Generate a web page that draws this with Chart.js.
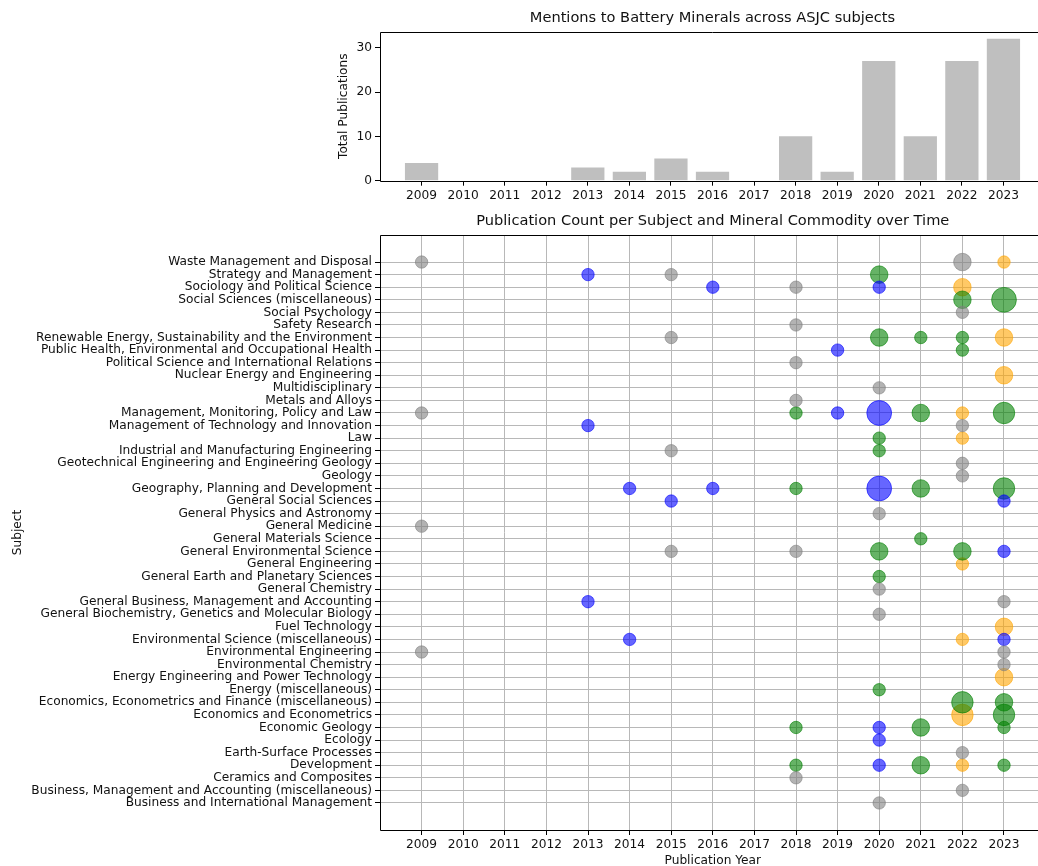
<!DOCTYPE html>
<html>
<head>
<meta charset="utf-8">
<script src="https://cdn.jsdelivr.net/npm/chart.js@4.4.1/dist/chart.umd.min.js"></script>
<style>
  html, body { margin: 0; padding: 0; background: #fff; overflow: hidden; }
  #wrap { position: relative; width: 1038px; height: 866px; overflow: hidden; background: #fff; }
  .box { position: absolute; left: 0; }
</style>
</head>
<body>
<div id="wrap">
  <div class="box" style="top:0; width:1045px; height:210px;"><canvas id="barChart"></canvas></div>
  <div class="box" style="top:200px; width:1059px; height:668px;"><canvas id="bubbleChart"></canvas></div>
</div>
<script>
// ---- data ----
const years = [2009, 2010, 2011, 2012, 2013, 2014, 2015, 2016, 2017, 2018, 2019, 2020, 2021, 2022, 2023];
const totalPublications = [4, 0, 0, 0, 3, 2, 5, 2, 0, 10, 2, 27, 10, 27, 32];
const barTicks = [0, 10, 20, 30];

// subjects, listed top to bottom
const subjects = [
  'Waste Management and Disposal',
  'Strategy and Management',
  'Sociology and Political Science',
  'Social Sciences (miscellaneous)',
  'Social Psychology',
  'Safety Research',
  'Renewable Energy, Sustainability and the Environment',
  'Public Health, Environmental and Occupational Health',
  'Political Science and International Relations',
  'Nuclear Energy and Engineering',
  'Multidisciplinary',
  'Metals and Alloys',
  'Management, Monitoring, Policy and Law',
  'Management of Technology and Innovation',
  'Law',
  'Industrial and Manufacturing Engineering',
  'Geotechnical Engineering and Engineering Geology',
  'Geology',
  'Geography, Planning and Development',
  'General Social Sciences',
  'General Physics and Astronomy',
  'General Medicine',
  'General Materials Science',
  'General Environmental Science',
  'General Engineering',
  'General Earth and Planetary Sciences',
  'General Chemistry',
  'General Business, Management and Accounting',
  'General Biochemistry, Genetics and Molecular Biology',
  'Fuel Technology',
  'Environmental Science (miscellaneous)',
  'Environmental Engineering',
  'Environmental Chemistry',
  'Energy Engineering and Power Technology',
  'Energy (miscellaneous)',
  'Economics, Econometrics and Finance (miscellaneous)',
  'Economics and Econometrics',
  'Economic Geology',
  'Ecology',
  'Earth-Surface Processes',
  'Development',
  'Ceramics and Composites',
  'Business, Management and Accounting (miscellaneous)',
  'Business and International Management'
];

// [year, subject, publication count] per mineral commodity group
const grayCounts = [
  [2009, 'Waste Management and Disposal', 1],
  [2022, 'Waste Management and Disposal', 2],
  [2015, 'Strategy and Management', 1],
  [2018, 'Sociology and Political Science', 1],
  [2022, 'Social Psychology', 1],
  [2018, 'Safety Research', 1],
  [2015, 'Renewable Energy, Sustainability and the Environment', 1],
  [2018, 'Political Science and International Relations', 1],
  [2020, 'Multidisciplinary', 1],
  [2018, 'Metals and Alloys', 1],
  [2009, 'Management, Monitoring, Policy and Law', 1],
  [2022, 'Management of Technology and Innovation', 1],
  [2015, 'Industrial and Manufacturing Engineering', 1],
  [2022, 'Geotechnical Engineering and Engineering Geology', 1],
  [2022, 'Geology', 1],
  [2020, 'General Physics and Astronomy', 1],
  [2009, 'General Medicine', 1],
  [2015, 'General Environmental Science', 1],
  [2018, 'General Environmental Science', 1],
  [2020, 'General Chemistry', 1],
  [2023, 'General Business, Management and Accounting', 1],
  [2020, 'General Biochemistry, Genetics and Molecular Biology', 1],
  [2009, 'Environmental Engineering', 1],
  [2023, 'Environmental Engineering', 1],
  [2023, 'Environmental Chemistry', 1],
  [2022, 'Earth-Surface Processes', 1],
  [2018, 'Ceramics and Composites', 1],
  [2022, 'Business, Management and Accounting (miscellaneous)', 1],
  [2020, 'Business and International Management', 1]
];

const blueCounts = [
  [2013, 'Strategy and Management', 1],
  [2016, 'Sociology and Political Science', 1],
  [2020, 'Sociology and Political Science', 1],
  [2019, 'Public Health, Environmental and Occupational Health', 1],
  [2019, 'Management, Monitoring, Policy and Law', 1],
  [2020, 'Management, Monitoring, Policy and Law', 4],
  [2013, 'Management of Technology and Innovation', 1],
  [2014, 'Geography, Planning and Development', 1],
  [2016, 'Geography, Planning and Development', 1],
  [2020, 'Geography, Planning and Development', 4],
  [2015, 'General Social Sciences', 1],
  [2023, 'General Social Sciences', 1],
  [2023, 'General Environmental Science', 1],
  [2013, 'General Business, Management and Accounting', 1],
  [2014, 'Environmental Science (miscellaneous)', 1],
  [2023, 'Environmental Science (miscellaneous)', 1],
  [2020, 'Economic Geology', 1],
  [2020, 'Ecology', 1],
  [2020, 'Development', 1]
];

const greenCounts = [
  [2020, 'Strategy and Management', 2],
  [2022, 'Social Sciences (miscellaneous)', 2],
  [2023, 'Social Sciences (miscellaneous)', 4],
  [2020, 'Renewable Energy, Sustainability and the Environment', 2],
  [2021, 'Renewable Energy, Sustainability and the Environment', 1],
  [2022, 'Renewable Energy, Sustainability and the Environment', 1],
  [2022, 'Public Health, Environmental and Occupational Health', 1],
  [2018, 'Management, Monitoring, Policy and Law', 1],
  [2021, 'Management, Monitoring, Policy and Law', 2],
  [2023, 'Management, Monitoring, Policy and Law', 3],
  [2020, 'Law', 1],
  [2020, 'Industrial and Manufacturing Engineering', 1],
  [2018, 'Geography, Planning and Development', 1],
  [2021, 'Geography, Planning and Development', 2],
  [2023, 'Geography, Planning and Development', 3],
  [2021, 'General Materials Science', 1],
  [2020, 'General Environmental Science', 2],
  [2022, 'General Environmental Science', 2],
  [2020, 'General Earth and Planetary Sciences', 1],
  [2020, 'Energy (miscellaneous)', 1],
  [2022, 'Economics, Econometrics and Finance (miscellaneous)', 3],
  [2023, 'Economics, Econometrics and Finance (miscellaneous)', 2],
  [2023, 'Economics and Econometrics', 3],
  [2018, 'Economic Geology', 1],
  [2021, 'Economic Geology', 2],
  [2023, 'Economic Geology', 1],
  [2018, 'Development', 1],
  [2021, 'Development', 2],
  [2023, 'Development', 1]
];

const orangeCounts = [
  [2023, 'Waste Management and Disposal', 1],
  [2022, 'Sociology and Political Science', 2],
  [2023, 'Renewable Energy, Sustainability and the Environment', 2],
  [2023, 'Nuclear Energy and Engineering', 2],
  [2022, 'Management, Monitoring, Policy and Law', 1],
  [2022, 'Law', 1],
  [2022, 'General Engineering', 1],
  [2023, 'Fuel Technology', 2],
  [2022, 'Environmental Science (miscellaneous)', 1],
  [2023, 'Energy Engineering and Power Technology', 2],
  [2022, 'Economics and Econometrics', 3],
  [2022, 'Development', 1]
];

// ---- helpers ----
const FONT = "'DejaVu Sans', 'Liberation Sans', sans-serif";
const TEXT = '#111';
const TICK_SIZE = 12.2;
const TITLE_SIZE = 14.6;

// y index: top subject gets the highest value
const subjectIndex = name => subjects.length - 1 - subjects.indexOf(name);
const toBubbles = rows => rows.map(([year, subject, count]) => ({
  x: year, y: subjectIndex(subject), r: 6.2 * Math.sqrt(count), count
}));

// axes frame on all four sides
const framePlugin = {
  id: 'frame',
  afterDraw(chart) {
    const { ctx, chartArea: a } = chart;
    ctx.save();
    ctx.strokeStyle = '#000';
    ctx.lineWidth = 1;
    const l = Math.round(a.left) + 0.5, t = Math.round(a.top) + 0.5;
    const r = Math.round(a.right) - 0.5, b = Math.round(a.bottom) + 0.5;
    ctx.beginPath();
    ctx.moveTo(l, b); ctx.lineTo(l, t); ctx.lineTo(r, t); ctx.lineTo(r, b); ctx.lineTo(l, b);
    ctx.stroke();
    ctx.restore();
  }
};

// title centred over the plotting area
const axesTitlePlugin = {
  id: 'axesTitle',
  afterDraw(chart, args, opts) {
    const { ctx, chartArea: a } = chart;
    ctx.save();
    ctx.font = `${opts.size}px ${FONT}`;
    ctx.fillStyle = TEXT;
    ctx.textAlign = 'center';
    ctx.textBaseline = 'middle';
    ctx.fillText(opts.text, (a.left + a.right) / 2, opts.y);
    ctx.restore();
  }
};

Chart.defaults.font.family = FONT;
Chart.defaults.color = TEXT;
Chart.defaults.animation = false;

// ---- top: total publications per year ----
new Chart(document.getElementById('barChart'), {
  type: 'bar',
  data: {
    datasets: [{
      data: years.map((y, i) => ({ x: y, y: totalPublications[i] })),
      backgroundColor: '#bfbfbf',
      borderWidth: 0,
      categoryPercentage: 1,
      barPercentage: 0.8
    }]
  },
  options: {
    responsive: true,
    maintainAspectRatio: false,
    devicePixelRatio: 1,
    layout: { padding: { top: 31.7, left: 0, right: 0, bottom: 0 } },
    plugins: {
      legend: { display: false },
      tooltip: { enabled: false },
      title: { display: false },
      axesTitle: { text: 'Mentions to Battery Minerals across ASJC subjects', y: 18, size: TITLE_SIZE }
    },
    scales: {
      x: {
        type: 'linear',
        min: 2008,
        max: 2024,
        offset: false,
        afterBuildTicks: s => { s.ticks = years.map(v => ({ value: v })); },
        afterFit: s => { s.height = 29.3; },
        ticks: { font: { size: TICK_SIZE }, color: TEXT, padding: 3, maxRotation: 0, autoSkip: false, callback: v => String(v) },
        grid: { offset: false, drawOnChartArea: false, drawTicks: true, tickLength: 5, tickColor: '#000' },
        border: { display: false }
      },
      y: {
        min: 0,
        max: 33.6,
        afterBuildTicks: s => { s.ticks = barTicks.map(v => ({ value: v })); },
        afterFit: s => { s.width = 380; },
        ticks: { font: { size: TICK_SIZE }, color: TEXT, padding: 3 },
        grid: { drawOnChartArea: false, drawTicks: true, tickLength: 5, tickColor: '#000' },
        border: { display: false },
        title: { display: true, text: 'Total Publications', font: { size: TICK_SIZE }, color: TEXT, padding: { top: 337, bottom: 0 } }
      }
    }
  },
  plugins: [framePlugin, axesTitlePlugin]
});

// ---- bottom: publications per subject and commodity ----
const series = [
  { rows: grayCounts,   color: 'rgba(128,128,128,0.6)' },
  { rows: blueCounts,   color: 'rgba(0,0,255,0.6)' },
  { rows: greenCounts,  color: 'rgba(0,128,0,0.6)' },
  { rows: orangeCounts, color: 'rgba(255,165,0,0.6)' }
];

new Chart(document.getElementById('bubbleChart'), {
  type: 'bubble',
  data: {
    datasets: series.map(s => ({
      data: toBubbles(s.rows),
      backgroundColor: s.color,
      borderColor: s.color,
      borderWidth: 1
    }))
  },
  options: {
    responsive: true,
    maintainAspectRatio: false,
    devicePixelRatio: 1,
    layout: { padding: { top: 35, left: 0, right: 0, bottom: 0 } },
    clip: false,
    plugins: {
      legend: { display: false },
      tooltip: { enabled: false },
      title: { display: false },
      axesTitle: { text: 'Publication Count per Subject and Mineral Commodity over Time', y: 21, size: TITLE_SIZE }
    },
    scales: {
      x: {
        type: 'linear',
        min: 2008,
        max: 2024,
        afterBuildTicks: s => { s.ticks = years.map(v => ({ value: v })); },
        afterFit: s => { s.height = 38; },
        ticks: { font: { size: TICK_SIZE }, color: TEXT, padding: 3, maxRotation: 0, autoSkip: false, callback: v => String(v) },
        grid: { color: '#b8b8b8', lineWidth: 1, drawTicks: true, tickLength: 5, tickColor: '#000' },
        border: { display: false },
        title: { display: true, text: 'Publication Year', font: { size: TICK_SIZE }, color: TEXT, padding: { top: 0, bottom: 0 } }
      },
      y: {
        type: 'linear',
        min: -2.15,
        max: subjects.length - 1 + 2.15,
        afterBuildTicks: s => { s.ticks = subjects.map((_, i) => ({ value: i })); },
        afterFit: s => { s.width = 380; },
        ticks: {
          font: { size: TICK_SIZE }, color: TEXT, padding: 3, autoSkip: false,
          callback: v => subjects[subjects.length - 1 - v]
        },
        grid: { color: '#b8b8b8', lineWidth: 1, drawTicks: true, tickLength: 5, tickColor: '#000' },
        border: { display: false },
        title: { display: true, text: 'Subject', font: { size: TICK_SIZE }, color: TEXT, padding: { top: 10.8, bottom: 0 } }
      }
    }
  },
  plugins: [framePlugin, axesTitlePlugin]
});
</script>
</body>
</html>
